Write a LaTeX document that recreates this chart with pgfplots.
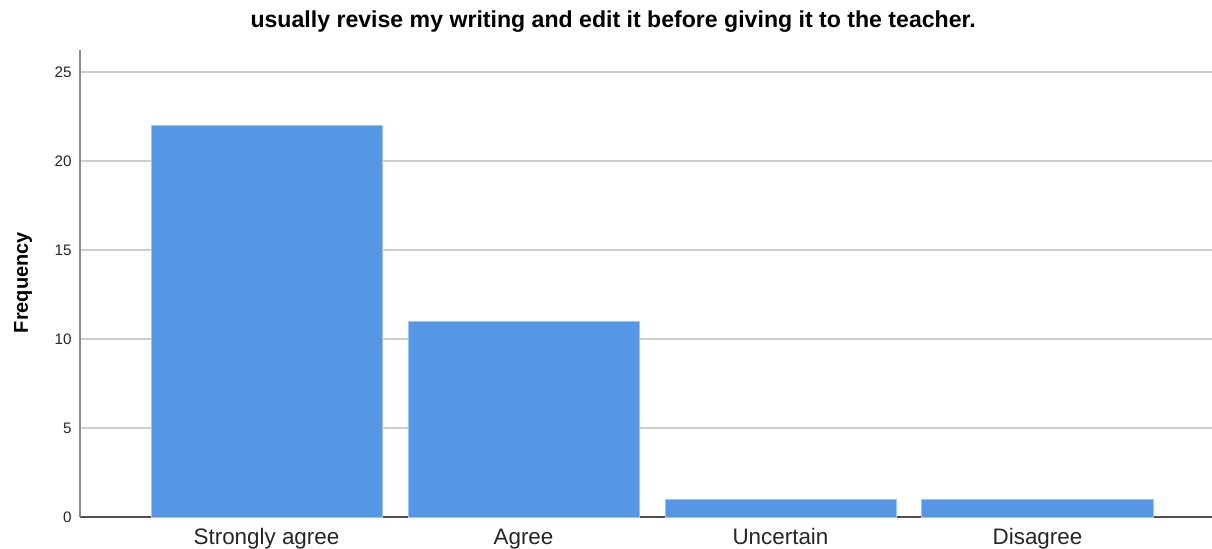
\documentclass[border=0pt]{standalone}
\usepackage{pgfplots}
\pgfplotsset{compat=1.18}
\usepackage{fontspec}
\setmainfont{Liberation Sans}
\definecolor{barblue}{RGB}{85,150,229}
\definecolor{baredge}{RGB}{160,196,240}
\definecolor{gridgray}{RGB}{205,205,205}
\begin{document}
\begin{tikzpicture}
\useasboundingbox (-40pt,-15.5pt) rectangle (566pt,258.5pt);
\begin{axis}[
  at={(0,0)}, anchor=south west,
  scale only axis,
  width=566pt, height=233.5pt,
  xmin=-0.7257, xmax=3.679,
  ymin=0, ymax=26.24,
  axis x line=bottom, axis y line=left,
  axis line style={-, line width=0.8pt},
  x axis line style={draw={rgb,255:red,80;green,80;blue,80}},
  y axis line style={draw={rgb,255:red,140;green,140;blue,140}},
  major tick length=0pt,
  xtick={0,1,2,3},
  xticklabels={Strongly agree, Agree, Uncertain, Disagree},
  ytick={0,5,10,15,20,25},
  ymajorgrids,
  grid style={gridgray, line width=0.9pt},
  /pgf/number format/assume math mode=true,
  xticklabel style={anchor=base, yshift=-13.5pt, font=\fontsize{11.2}{12}\selectfont, text=black!85},
  yticklabel style={anchor=east, inner sep=0pt, xshift=-4pt, font=\fontsize{7.6}{9}\selectfont, text=black!85},
  ylabel={\textbf{Frequency}},
  ylabel style={at={(axis description cs:0,0.502)}, anchor=center, yshift=28.5pt, font=\fontsize{10}{12}\selectfont},
  title={\textbf{usually revise my writing and edit it before giving it to the teacher.}},
  title style={at={(axis description cs:0.471,1)}, anchor=center, yshift=8pt, font=\fontsize{11.55}{13}\selectfont},
  ybar, bar width=115.5pt, bar shift=0pt,
]
\addplot[fill=barblue, draw=baredge, line width=0.5pt] coordinates {(0,22) (1,11) (2,1) (3,1)};
\end{axis}
\end{tikzpicture}
\end{document}
